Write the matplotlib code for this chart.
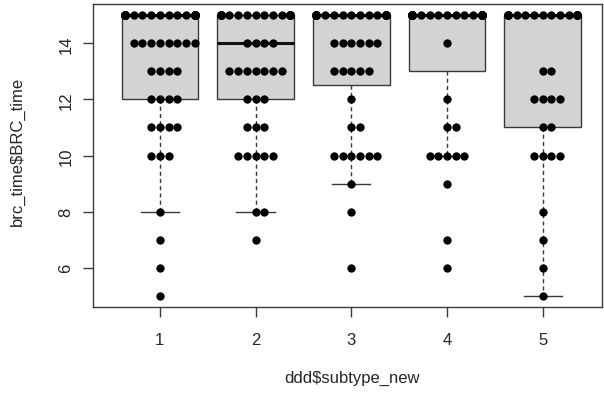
import numpy as np
import matplotlib
matplotlib.use("Agg")
import matplotlib.pyplot as plt

plt.rcParams['font.family'] = ['Liberation Sans', 'DejaVu Sans']

# BRC_time levels and how many records fall on each level, per subtype
levels = [5, 6, 7, 8, 9, 10, 11, 12, 13, 14, 15]
counts_1 = [1, 1, 1, 1, 0, 3, 4, 4, 4, 8, 28]
counts_2 = [0, 0, 1, 2, 0, 5, 3, 3, 7, 4, 20]
counts_3 = [0, 1, 0, 1, 1, 6, 2, 1, 5, 6, 24]
counts_4 = [0, 1, 1, 0, 1, 5, 2, 1, 0, 1, 31]
counts_5 = [1, 1, 1, 1, 0, 4, 2, 4, 2, 0, 18]
subtypes = [1, 2, 3, 4, 5]
groups = [counts_1, counts_2, counts_3, counts_4, counts_5]


def fivenum(x):
    x = np.sort(np.asarray(x, dtype=float))
    n = len(x)
    n4 = np.floor((n + 3) / 2) / 2
    d = np.array([1, n4, (n + 1) / 2, n + 1 - n4, n])
    return 0.5 * (x[np.floor(d).astype(int) - 1] + x[np.ceil(d).astype(int) - 1])


def box_stats(x):
    x = np.asarray(x, dtype=float)
    _, q1, med, q3, _ = fivenum(x)
    iqr = q3 - q1
    lo = x[x >= q1 - 1.5 * iqr].min()
    hi = x[x <= q3 + 1.5 * iqr].max()
    return dict(med=med, q1=q1, q3=q3, whislo=lo, whishi=hi, fliers=[])


def swarm_offsets(n, max_k=4):
    # centre first, then alternate right/left; overflow piles up in the gutter
    order = [0]
    k = 1
    while len(order) < n:
        order += [k, -k]
        k += 1
    return np.clip(np.array(order[:n]), -max_k, max_k)


fig = plt.figure(figsize=(6.04, 4.02), dpi=100)
W, H = 604, 402
ax = fig.add_axes([93 / W, (H - 308) / H, (602 - 93) / W, (308 - 5) / H])

data = [np.repeat(levels, c) for c in groups]
stats = [box_stats(d) for d in data]

frame_col = '#3a3a3a'
ax.bxp(stats, positions=subtypes, widths=0.8, capwidths=0.4,
       showfliers=False, patch_artist=True,
       boxprops=dict(facecolor='#d3d3d3', edgecolor=frame_col, linewidth=1.0),
       medianprops=dict(color='#111111', linewidth=2.2, solid_capstyle='butt'),
       whiskerprops=dict(color=frame_col, linewidth=1.0, linestyle=(0, (3, 2.2))),
       capprops=dict(color=frame_col, linewidth=1.0))

spacing = 0.091
for pos, c in zip(subtypes, groups):
    for lev, n in zip(levels, c):
        if n == 0:
            continue
        xs = pos + swarm_offsets(n) * spacing
        ax.scatter(xs, np.full(n, lev), s=36, color='black', linewidths=0, zorder=5)

ax.set_xlim(0.302, 5.62)
ax.set_ylim(4.6, 15.4)
ax.set_xticks(subtypes)
ax.set_xticklabels([str(s) for s in subtypes])
ax.set_yticks([6, 8, 10, 12, 14])
ax.set_yticklabels(['6', '8', '10', '12', '14'], rotation=90, va='center')

txt_col = '#262626'
ax.tick_params(axis='both', direction='out', length=7.2, width=1.0,
               color=frame_col, labelcolor=txt_col, labelsize=12)
ax.tick_params(axis='x', pad=11)
ax.tick_params(axis='y', pad=7)
for sp in ax.spines.values():
    sp.set_color(frame_col)
    sp.set_linewidth(1.0)

fig.text(352 / W, 1 - 378 / H, 'ddd$subtype_new', ha='center', va='center',
         fontsize=12, color=txt_col)
fig.text(17 / W, 1 - 151 / H, 'brc_time$BRC_time', ha='center', va='center',
         rotation=90, fontsize=12, color=txt_col)

fig.savefig('out.png', dpi=100)
